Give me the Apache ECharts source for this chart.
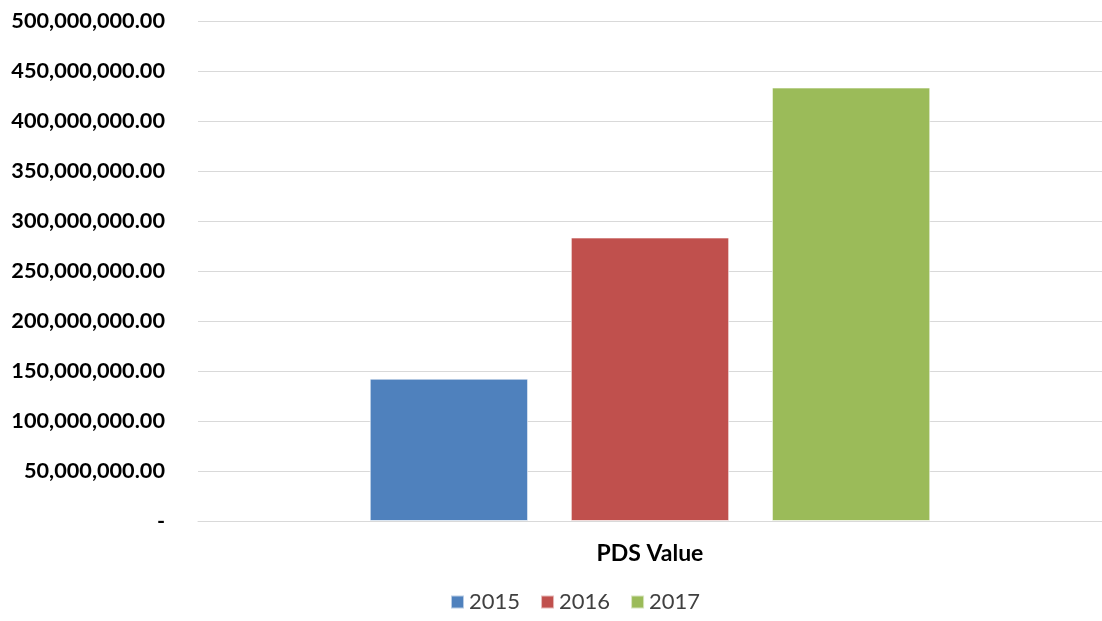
<!DOCTYPE html>
<html>
<head>
<meta charset="utf-8">
<script src="https://cdn.jsdelivr.net/npm/echarts@6/dist/echarts.min.js"></script>
<style>
  html, body { margin: 0; padding: 0; background: #fff; }
  #main { width: 1102px; height: 621px; }
</style>
</head>
<body>
<div id="main"></div>
<script>
var categories = ['PDS Value'];
var years = ['2015', '2016', '2017'];
var values2015 = [142300000];
var values2016 = [283500000];
var values2017 = [433500000];
var colors = ['#4F81BD', '#C0504D', '#9BBB59'];

var chart = echarts.init(document.getElementById('main'));

function fmt(v) {
  if (v === 0) return '-';
  return v.toLocaleString('en-US', { minimumFractionDigits: 2, maximumFractionDigits: 2 });
}

var seriesData = [values2015, values2016, values2017];
var series = years.map(function (y, i) {
  return {
    name: y,
    type: 'bar',
    data: seriesData[i],
    barGap: '27%',
    barCategoryGap: '38%',
    itemStyle: {
      color: colors[i],
      borderColor: 'rgba(255,255,255,0.6)',
      borderWidth: 1
    }
  };
});

chart.setOption({
  animation: false,
  textStyle: { fontFamily: 'Lato' },
  grid: { left: 198, right: 0, top: 21, bottom: 100 },
  legend: {
    bottom: 3,
    left: 445,
    itemWidth: 13,
    itemHeight: 13,
    itemGap: 20,
    icon: 'rect',
    textStyle: { fontSize: 22, color: '#404040', fontFamily: 'Lato' },
    data: years
  },
  xAxis: {
    type: 'category',
    data: categories,
    axisLine: { lineStyle: { color: '#D9D9D9', width: 1 } },
    axisTick: { show: false },
    axisLabel: {
      fontSize: 23, fontWeight: 'bold', color: '#000', margin: 21, fontFamily: 'Lato'
    }
  },
  yAxis: {
    type: 'value',
    min: 0,
    max: 500000000,
    interval: 50000000,
    axisLine: { show: false },
    axisTick: { show: false },
    splitLine: { lineStyle: { color: '#D9D9D9', width: 1 } },
    axisLabel: {
      fontSize: 21.7, fontWeight: 'bold', color: '#000', margin: 33, fontFamily: 'Lato',
      formatter: fmt
    }
  },
  series: series
});
</script>
</body>
</html>
